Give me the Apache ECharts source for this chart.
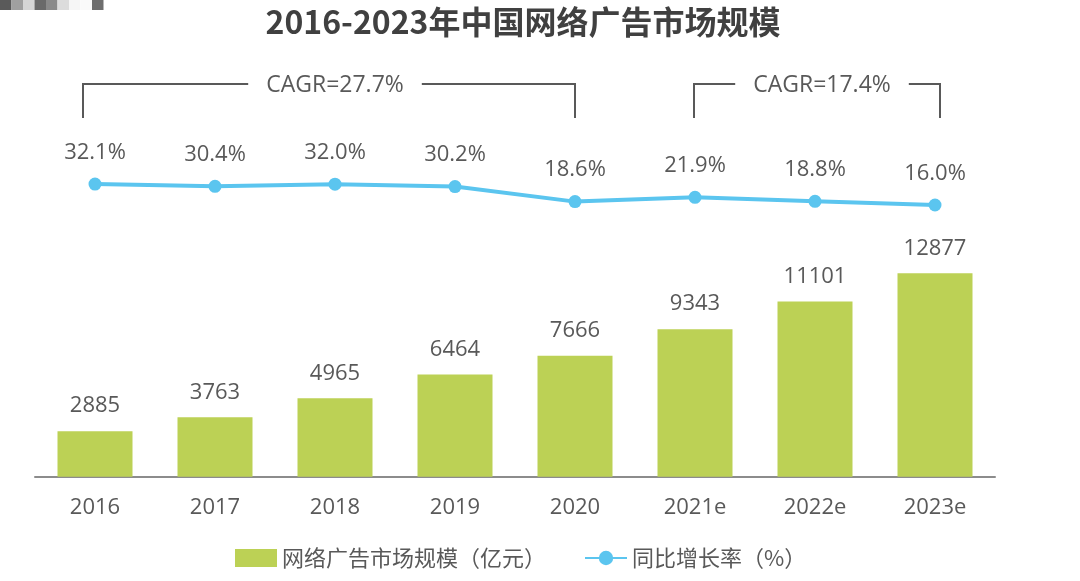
<!DOCTYPE html>
<html>
<head>
<meta charset="utf-8">
<script src="https://cdn.jsdelivr.net/npm/echarts@6/dist/echarts.min.js"></script>
<style>
html,body{margin:0;padding:0;background:#fff;}
#chart{width:1080px;height:581px;}
</style>
</head>
<body>
<div id="chart"></div>
<script>
const categories = ['2016','2017','2018','2019','2020','2021e','2022e','2023e'];
const marketSize = [2885, 3763, 4965, 6464, 7666, 9343, 11101, 12877];
const growthRate = [32.1, 30.4, 32.0, 30.2, 18.6, 21.9, 18.8, 16.0];
const cagrNotes = [
  {from: 0, to: 4, text: 'CAGR=27.7%'},
  {from: 5, to: 7, text: 'CAGR=17.4%'}
];
const titleText = '2016-2023年中国网络广告市场规模';
const barName = '网络广告市场规模（亿元）';
const lineName = '同比增长率（%）';

const FONT = '"Open Sans", "Noto Sans CJK SC", sans-serif';
const TXT = '#595959';
const chart = echarts.init(document.getElementById('chart'), null, {renderer: 'canvas'});

const option = {
  backgroundColor: '#ffffff',
  animation: false,
  textStyle: {fontFamily: FONT},
  title: {
    text: titleText,
    left: 518, top: 1, textAlign: 'center',
    textStyle: {fontSize: 32, fontWeight: 'bold', color: '#404040', fontFamily: '"Noto Sans CJK SC", sans-serif'}
  },
  legend: {
    bottom: 7, left: 230, itemGap: 38,
    itemWidth: 42, itemHeight: 18,
    textStyle: {fontSize: 22, color: TXT, fontFamily: '"Noto Sans CJK SC", sans-serif'},
    data: [
      {name: barName, icon: 'rect'},
      {name: lineName}
    ]
  },
  grid: [
    {left: 35, right: 85, top: 97.7, bottom: 104.3},
    {left: 35, right: 85, top: 147.8, height: 78}
  ],
  xAxis: [
    {
      type: 'category', gridIndex: 0, data: categories,
      axisLine: {lineStyle: {color: '#8c8c8c', width: 2}},
      axisTick: {show: false},
      axisLabel: {fontSize: 22, color: TXT, margin: 20, fontFamily: FONT}
    },
    {
      type: 'category', gridIndex: 1, data: categories,
      show: false
    }
  ],
  yAxis: [
    {type: 'value', gridIndex: 0, min: 0, max: 24000, show: false, splitLine: {show: false}},
    {type: 'value', gridIndex: 1, min: 0, max: 60, show: false, splitLine: {show: false}}
  ],
  series: [
    {
      name: barName, type: 'bar', xAxisIndex: 0, yAxisIndex: 0,
      data: marketSize, barWidth: 75,
      itemStyle: {color: '#bcd155'},
      label: {show: true, position: 'top', distance: 14, fontSize: 22, color: TXT, fontFamily: FONT}
    },
    {
      name: lineName, type: 'line', xAxisIndex: 1, yAxisIndex: 1,
      data: growthRate,
      symbol: 'circle', symbolSize: 13,
      lineStyle: {color: '#5bc5ef', width: 4},
      itemStyle: {color: '#5bc5ef'},
      label: {show: true, position: 'top', distance: 14, fontSize: 22, color: TXT, fontFamily: FONT,
              formatter: p => p.value.toFixed(1) + '%'}
    }
  ]
};
chart.setOption(option);

// CAGR brackets positioned from category axis
const ctx = document.createElement('canvas').getContext('2d');
const CAGR_FS = 23;
ctx.font = CAGR_FS + 'px "Open Sans"';
const els = [];
const yTop = 84, yBot = 118;
const bracketPad = [[-12, 0], [-1, 5]];
const textShift = [6, 5];
cagrNotes.forEach((n, i) => {
  const x1 = chart.convertToPixel({xAxisIndex: 0}, categories[n.from]) + bracketPad[i][0];
  const x2 = chart.convertToPixel({xAxisIndex: 0}, categories[n.to]) + bracketPad[i][1];
  const cx = (x1 + x2) / 2 + textShift[i];
  const halfText = ctx.measureText(n.text).width / 2;
  els.push({type: 'polyline', shape: {points: [[x1, yBot], [x1, yTop], [cx - halfText - 18, yTop]]},
            style: {stroke: '#595959', lineWidth: 2, fill: null}});
  els.push({type: 'polyline', shape: {points: [[cx + halfText + 18, yTop], [x2, yTop], [x2, yBot]]},
            style: {stroke: '#595959', lineWidth: 2, fill: null}});
  els.push({type: 'text', x: cx, y: yTop + 1,
            style: {text: n.text, fill: TXT, fontSize: CAGR_FS, fontFamily: FONT, align: 'center', verticalAlign: 'middle'}});
});
// mosaic artifact at top-left
const mosaic = ['#5a5a5a', '#a0a0a0', '#d6d6d6', '#6a6a6a', '#8a8a8a', '#dcdcdc', '#f6f6f6', '#fafafa', '#6e6e6e'];
mosaic.forEach((c, i) => {
  els.push({type: 'rect', shape: {x: i * 11.5, y: 0, width: 11.5, height: 10}, style: {fill: c}});
});
chart.setOption({graphic: els});
</script>
</body>
</html>
